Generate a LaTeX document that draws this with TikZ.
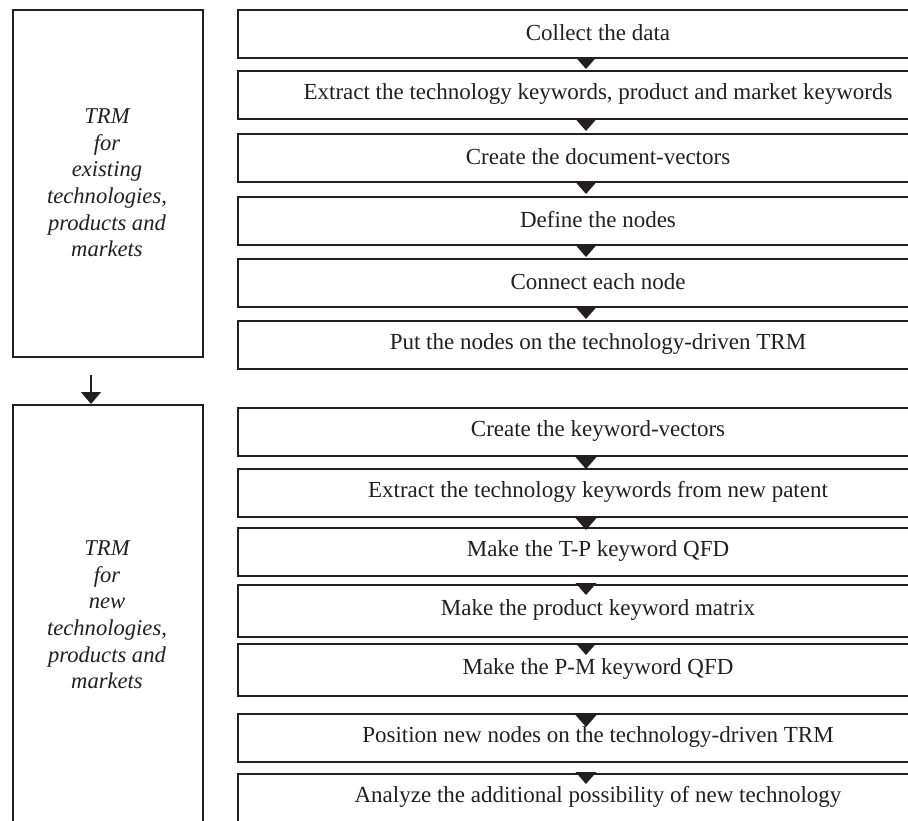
\documentclass[tikz,border=0pt]{standalone}
\usepackage{fontspec}
\setmainfont{Liberation Serif}
\usetikzlibrary{arrows.meta}
\definecolor{ink}{HTML}{231F20}
\begin{document}
\begin{tikzpicture}[x=1pt,y=-1pt,
  stepbox/.style={draw=ink, line width=1.8pt, minimum width=703pt,
    anchor=north west, inner sep=0pt},
  steptext/.style={text=ink, font=\fontsize{23}{26}\selectfont, inner sep=0pt},
  phasebox/.style={draw=ink, line width=1.8pt, minimum width=190pt, anchor=north west, inner sep=0pt},
  phasetext/.style={text=ink, font=\fontsize{22.6}{26.6}\selectfont\itshape, align=center, inner sep=0pt},
  pointer/.style={fill=ink}]
\useasboundingbox (0,0) rectangle (908,820);
\clip (0,0) rectangle (908,820);

% phase boxes on the left
\node[phasebox, minimum height=347pt] (pA) at (12,9) {};
\node[phasebox, minimum height=422pt] (pB) at (12,404) {};
\node[phasetext] (tA) at (107,183) {TRM\\for\\existing\\technologies,\\products and\\markets};
\node[phasetext] (tB) at (107,615) {TRM\\for\\new\\technologies,\\products and\\markets};
\coordinate (pstart) at (91,375);
\draw[ink, line width=1.4pt, -{Triangle[width=20pt,length=12pt]}] (pstart) -- (pstart |- pB.north);

% step boxes: name / top / height / text
\foreach \n/\y/\h/\t in {
  s1/9/48/{Collect the data},
  s2/70/48/{Extract the technology keywords, product and market keywords},
  s3/133/48/{Create the document-vectors},
  s4/196/48/{Define the nodes},
  s5/258/48/{Connect each node},
  s6/320/48/{Put the nodes on the technology-driven TRM},
  s7/407/48/{Create the keyword-vectors},
  s8/468/48/{Extract the technology keywords from new patent},
  s9/527/48/{Make the T-P keyword QFD},
  s10/584/52/{Make the product keyword matrix},
  s11/643/52/{Make the P-M keyword QFD},
  s12/713/48/{Position new nodes on the technology-driven TRM},
  s13/773/48/{Analyze the additional possibility of new technology}}
{
  \node[stepbox, minimum height=\h pt] (\n) at (237,\y) {};
  \node[steptext] (\n t) at (598,\y+\h/2) {\t};
}

% flow pointers between the steps
\foreach \ty in {57,119,182,245,307,457,518,583,643,715,772}
  \fill[pointer] (575.5,\ty) -- ++(21,0) -- ++(-10.5,12) -- cycle;
\end{tikzpicture}
\end{document}
